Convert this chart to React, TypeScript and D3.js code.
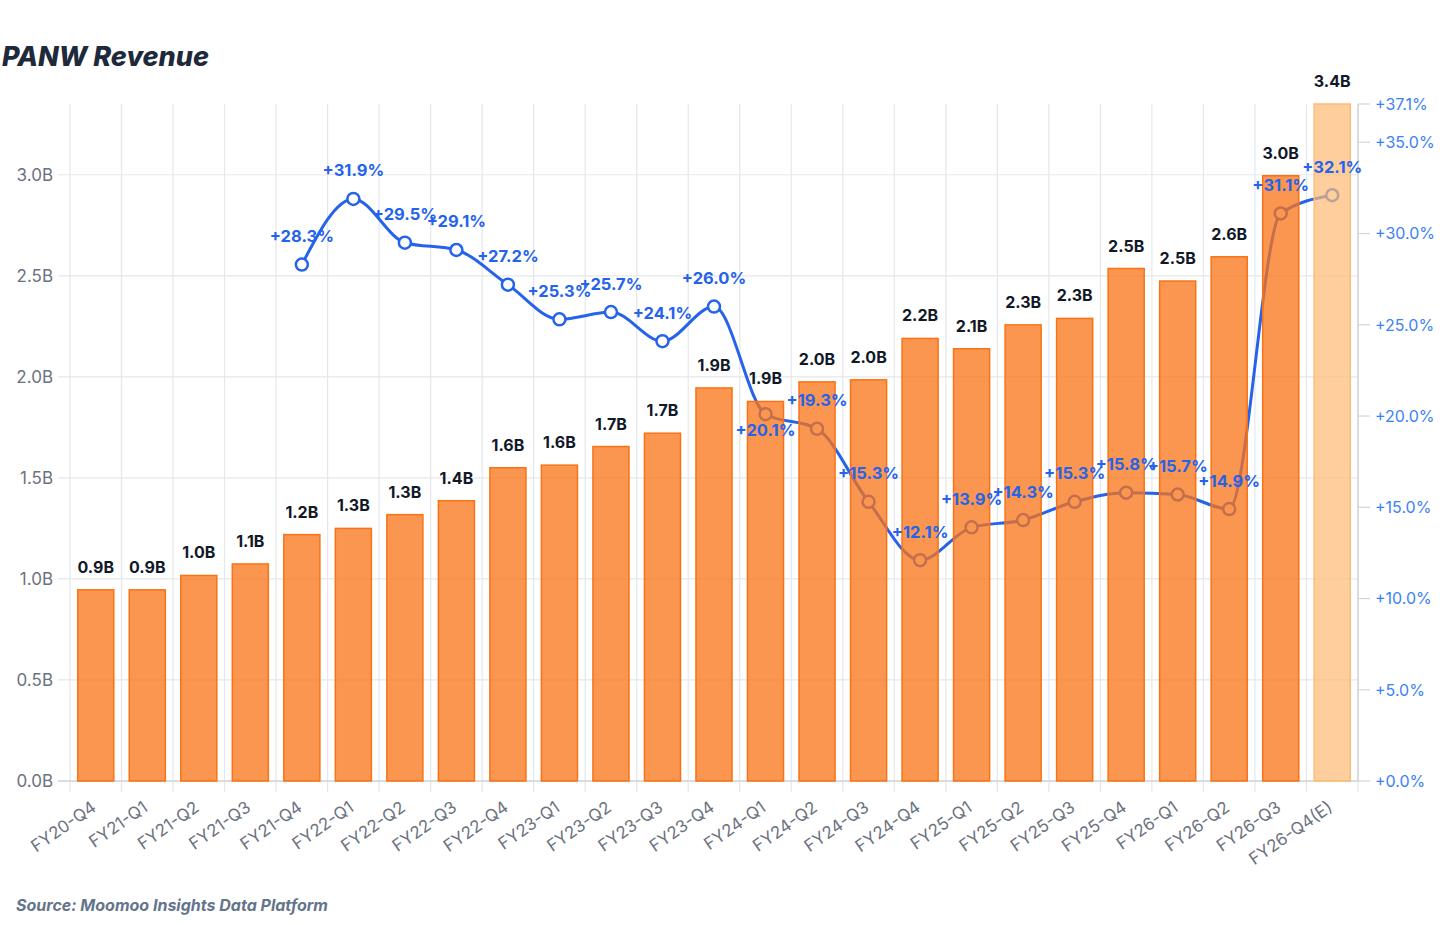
import * as d3 from "d3"

const categories = [
  "FY20-Q4", "FY21-Q1", "FY21-Q2", "FY21-Q3", "FY21-Q4",
  "FY22-Q1", "FY22-Q2", "FY22-Q3", "FY22-Q4",
  "FY23-Q1", "FY23-Q2", "FY23-Q3", "FY23-Q4",
  "FY24-Q1", "FY24-Q2", "FY24-Q3", "FY24-Q4",
  "FY25-Q1", "FY25-Q2", "FY25-Q3", "FY25-Q4",
  "FY26-Q1", "FY26-Q2", "FY26-Q3", "FY26-Q4(E)",
]

// revenue, billions
const revenue = [
  0.946, 0.946, 1.017, 1.074, 1.219,
  1.25, 1.318, 1.387, 1.550,
  1.563, 1.655, 1.721, 1.945,
  1.878, 1.975, 1.985, 2.190,
  2.139, 2.257, 2.289, 2.536,
  2.474, 2.594, 2.995, 3.35,
]

// YoY growth %, starts at FY21-Q4
const growthStart = 4
const growth = [
  28.3, 31.9, 29.5, 29.1, 27.2,
  25.3, 25.7, 24.1, 26.0,
  20.1, 19.3, 15.3, 12.1,
  13.9, 14.3, 15.3, 15.8,
  15.7, 14.9, 31.1, 32.1,
]

const estimateIndex = 24
const leftTicks = [0, 0.5, 1.0, 1.5, 2.0, 2.5, 3.0]
const rightTicks = [0, 5, 10, 15, 20, 25, 30, 35, 37.1]

const W = 1442
const H = 925
const margin = { top: 104, right: 84, bottom: 144, left: 70 }
const FONT = "Inter, 'Noto Sans', sans-serif"

export default function App() {
  const bottom = H - margin.bottom
  const right = W - margin.right

  const x = d3.scaleBand().domain(categories).range([margin.left, right]).paddingInner(0.3).paddingOuter(0.15)
  const band = d3.scaleBand().domain(categories).range([margin.left, right])
  const y = d3.scaleLinear().domain([0, d3.max(revenue) as number]).range([bottom, margin.top])
  const y2 = d3.scaleLinear().domain([0, 37.1]).range([bottom, margin.top])

  const pts = growth.map((g, i) => ({ cat: categories[i + growthStart], g }))
  const cx = (c: string) => (band(c) as number) + band.bandwidth() / 2

  const line = d3
    .line<{ cat: string; g: number }>()
    .x((d) => cx(d.cat))
    .y((d) => y2(d.g))
    .curve(d3.curveMonotoneX)

  const boundaries = d3.range(categories.length + 1).map((i) => margin.left + i * band.step())

  return (
    <svg width={W} height={H} style={{ position: "absolute", left: 0, top: 0, background: "#fff" }} fontFamily={FONT}>
      <text x={2} y={66} fontSize={27} fontWeight={800} fontStyle="italic" fill="#1e293b">
        PANW Revenue
      </text>

      {/* grid */}
      {leftTicks.map((t) => (
        <line key={"h" + t} x1={margin.left - 12} x2={right} y1={y(t)} y2={y(t)} stroke="#e5e7eb" strokeWidth={1.2} />
      ))}
      {boundaries.map((bx, i) => (
        <line key={"v" + i} x1={bx} x2={bx} y1={margin.top} y2={bottom + 11} stroke="#e5e7eb" strokeWidth={1.2} />
      ))}
      <line x1={margin.left - 12} x2={right} y1={bottom} y2={bottom} stroke="#d1d5db" strokeWidth={1.5} />
      <line x1={right} x2={right} y1={margin.top} y2={bottom} stroke="#d1d5db" strokeWidth={1.5} />

      {/* left axis */}
      {leftTicks.map((t) => (
        <text key={"l" + t} x={53} y={y(t)} dy="0.36em" textAnchor="end" fontSize={17} fill="#6b7280">
          {t.toFixed(1)}B
        </text>
      ))}

      {/* right axis */}
      {rightTicks.map((t) => (
        <g key={"r" + t}>
          <line x1={right} x2={right + 12} y1={y2(t)} y2={y2(t)} stroke="#d1d5db" strokeWidth={1.2} />
          <text x={right + 17} y={y2(t)} dy="0.36em" fontSize={16} fill="#3b82f6">
            +{t.toFixed(1)}%
          </text>
        </g>
      ))}

      {/* x labels */}
      {categories.map((c) => (
        <text
          key={"x" + c}
          transform={`translate(${cx(c) - 2},${bottom + 24}) rotate(-35)`}
          textAnchor="end"
          dy="0.36em"
          fontSize={17}
          fill="#6b7280"
        >
          {c}
        </text>
      ))}

      {/* growth line, under the bars */}
      <path d={line(pts) || ""} fill="none" stroke="#2563eb" strokeWidth={3} />
      {pts.map((p) => (
        <circle key={"c" + p.cat} cx={cx(p.cat)} cy={y2(p.g)} r={6} fill="#fff" stroke="#2563eb" strokeWidth={2.5} />
      ))}

      {/* bars */}
      {revenue.map((v, i) => {
        const est = i === estimateIndex
        return (
          <rect
            key={"b" + i}
            x={x(categories[i])}
            y={y(v)}
            width={x.bandwidth()}
            height={bottom - y(v)}
            fill={est ? "#fdba74" : "#f97316"}
            fillOpacity={est ? 0.7 : 0.75}
            stroke={est ? "#fdba74" : "#f97316"}
            strokeWidth={1.5}
          />
        )
      })}

      {/* bar labels */}
      {revenue.map((v, i) => (
        <text
          key={"bl" + i}
          x={cx(categories[i])}
          y={y(v) - 17}
          textAnchor="middle"
          fontSize={16}
          fontWeight={700}
          fill="#111827"
        >
          {v.toFixed(1)}B
        </text>
      ))}

      {/* growth labels */}
      {pts.map((p, i) => {
        const below = i + growthStart === 13
        return (
          <text
            key={"gl" + p.cat}
            x={cx(p.cat)}
            y={y2(p.g) + (below ? 21.5 : -22.5)}
            textAnchor="middle"
            fontSize={16.5}
            fontWeight={700}
            fill="#2563eb"
          >
            +{p.g.toFixed(1)}%
          </text>
        )
      })}

      <text x={16} y={911} fontSize={16} fontWeight={700} fontStyle="italic" fill="#64748b">
        Source: Moomoo Insights Data Platform
      </text>
    </svg>
  )
}
